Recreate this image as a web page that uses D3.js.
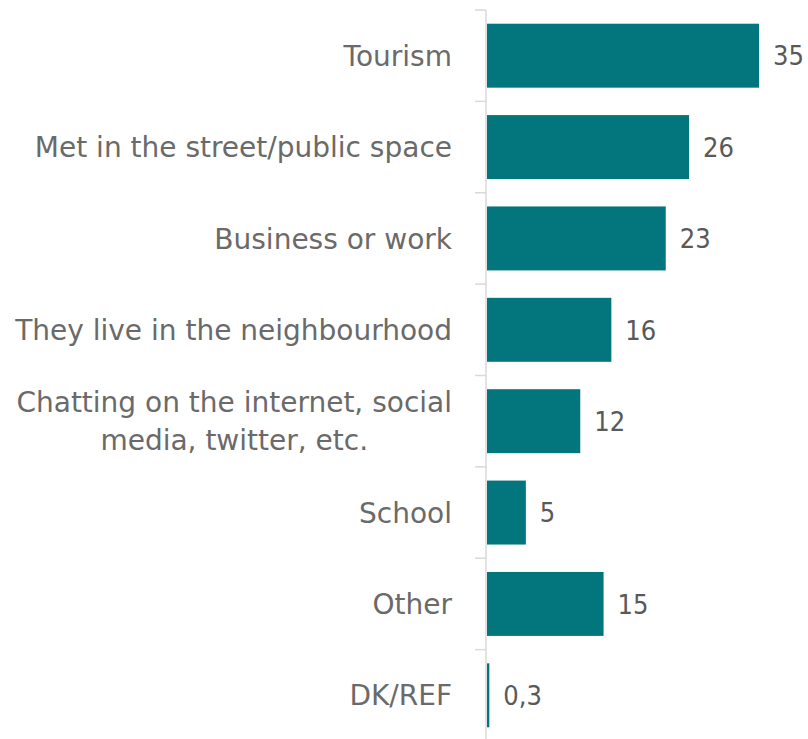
<!DOCTYPE html>
<html>
<head>
<meta charset="utf-8">
<script src="https://cdn.jsdelivr.net/npm/d3@7"></script>
<style>
  html, body { margin: 0; padding: 0; background: #ffffff; }
  svg { display: block; }
</style>
</head>
<body>
<svg id="chart" width="808" height="739"></svg>
<script>
// Reasons for meeting — share of respondents (%)
const categories = [
  "Tourism",
  "Met in the street/public space",
  "Business or work",
  "They live in the neighbourhood",
  "Chatting on the internet, social|media, twitter, etc.",
  "School",
  "Other",
  "DK/REF"
];
const values = [35, 26, 23, 16, 12, 5, 15, 0.3];
const valueLabels = ["35", "26", "23", "16", "12", "5", "15", "0,3"];

const width = 808, height = 739;
const margin = { top: 10, left: 486, bottom: -2 };

const svg = d3.select("#chart");
const catFont = "'DejaVu Sans', Verdana, sans-serif";
const valFont = "'DejaVu Sans Condensed', 'DejaVu Sans', sans-serif";
const catColor = "#6a6a6a";
const valColor = "#595959";
const barColor = "#02767C";
const labelRight = margin.left - 34;

const y = d3.scaleBand()
  .domain(categories)
  .range([margin.top, height - margin.bottom])
  .paddingInner(0.3)
  .paddingOuter(0.15);

const x = d3.scaleLinear()
  .domain([0, 35])
  .range([margin.left + 1, 759]);

// category axis with ticks between the bands
const step = y.step();
const bounds = d3.range(categories.length + 1).map(i => margin.top + i * step);

const axisG = svg.append("g");
axisG.append("line")
  .attr("x1", margin.left).attr("x2", margin.left)
  .attr("y1", margin.top).attr("y2", height)
  .attr("stroke", "#d9d9d9").attr("stroke-width", 1.5);
axisG.selectAll("line.tick")
  .data(bounds)
  .join("line")
  .attr("class", "tick")
  .attr("x1", margin.left - 11).attr("x2", margin.left)
  .attr("y1", d => d).attr("y2", d => d)
  .attr("stroke", "#d9d9d9").attr("stroke-width", 1.5);

// bars
svg.append("g").selectAll("rect")
  .data(categories)
  .join("rect")
  .attr("x", x(0))
  .attr("y", d => y(d))
  .attr("width", (d, i) => Math.max(1.5, x(values[i]) - x(0)))
  .attr("height", y.bandwidth())
  .attr("fill", barColor);

// value labels
svg.append("g").selectAll("text")
  .data(categories)
  .join("text")
  .attr("x", (d, i) => x(values[i]) + 14)
  .attr("y", d => y(d) + y.bandwidth() / 2)
  .attr("dy", "0.36em")
  .attr("font-family", valFont)
  .attr("font-size", 27)
  .attr("fill", valColor)
  .text((d, i) => valueLabels[i]);

// category labels; wrapped labels are centred as a block, right-aligned to the axis
const labels = svg.append("g").selectAll("g")
  .data(categories)
  .join("g");

labels.each(function(d) {
  const lines = d.split("|");
  const g = d3.select(this);
  const lh = 38;
  const start = -(lines.length - 1) * lh / 2;
  const texts = lines.map((ln, i) => g.append("text")
    .attr("y", y(d) + y.bandwidth() / 2 + start + i * lh)
    .attr("dy", "0.36em")
    .attr("font-family", catFont)
    .attr("font-size", 28)
    .attr("fill", catColor)
    .text(ln));
  const widths = texts.map(t => t.node().getComputedTextLength());
  const maxW = d3.max(widths);
  const cx = labelRight - maxW / 2;
  texts.forEach(t => t.attr("x", cx).attr("text-anchor", "middle"));
});
</script>
</body>
</html>
